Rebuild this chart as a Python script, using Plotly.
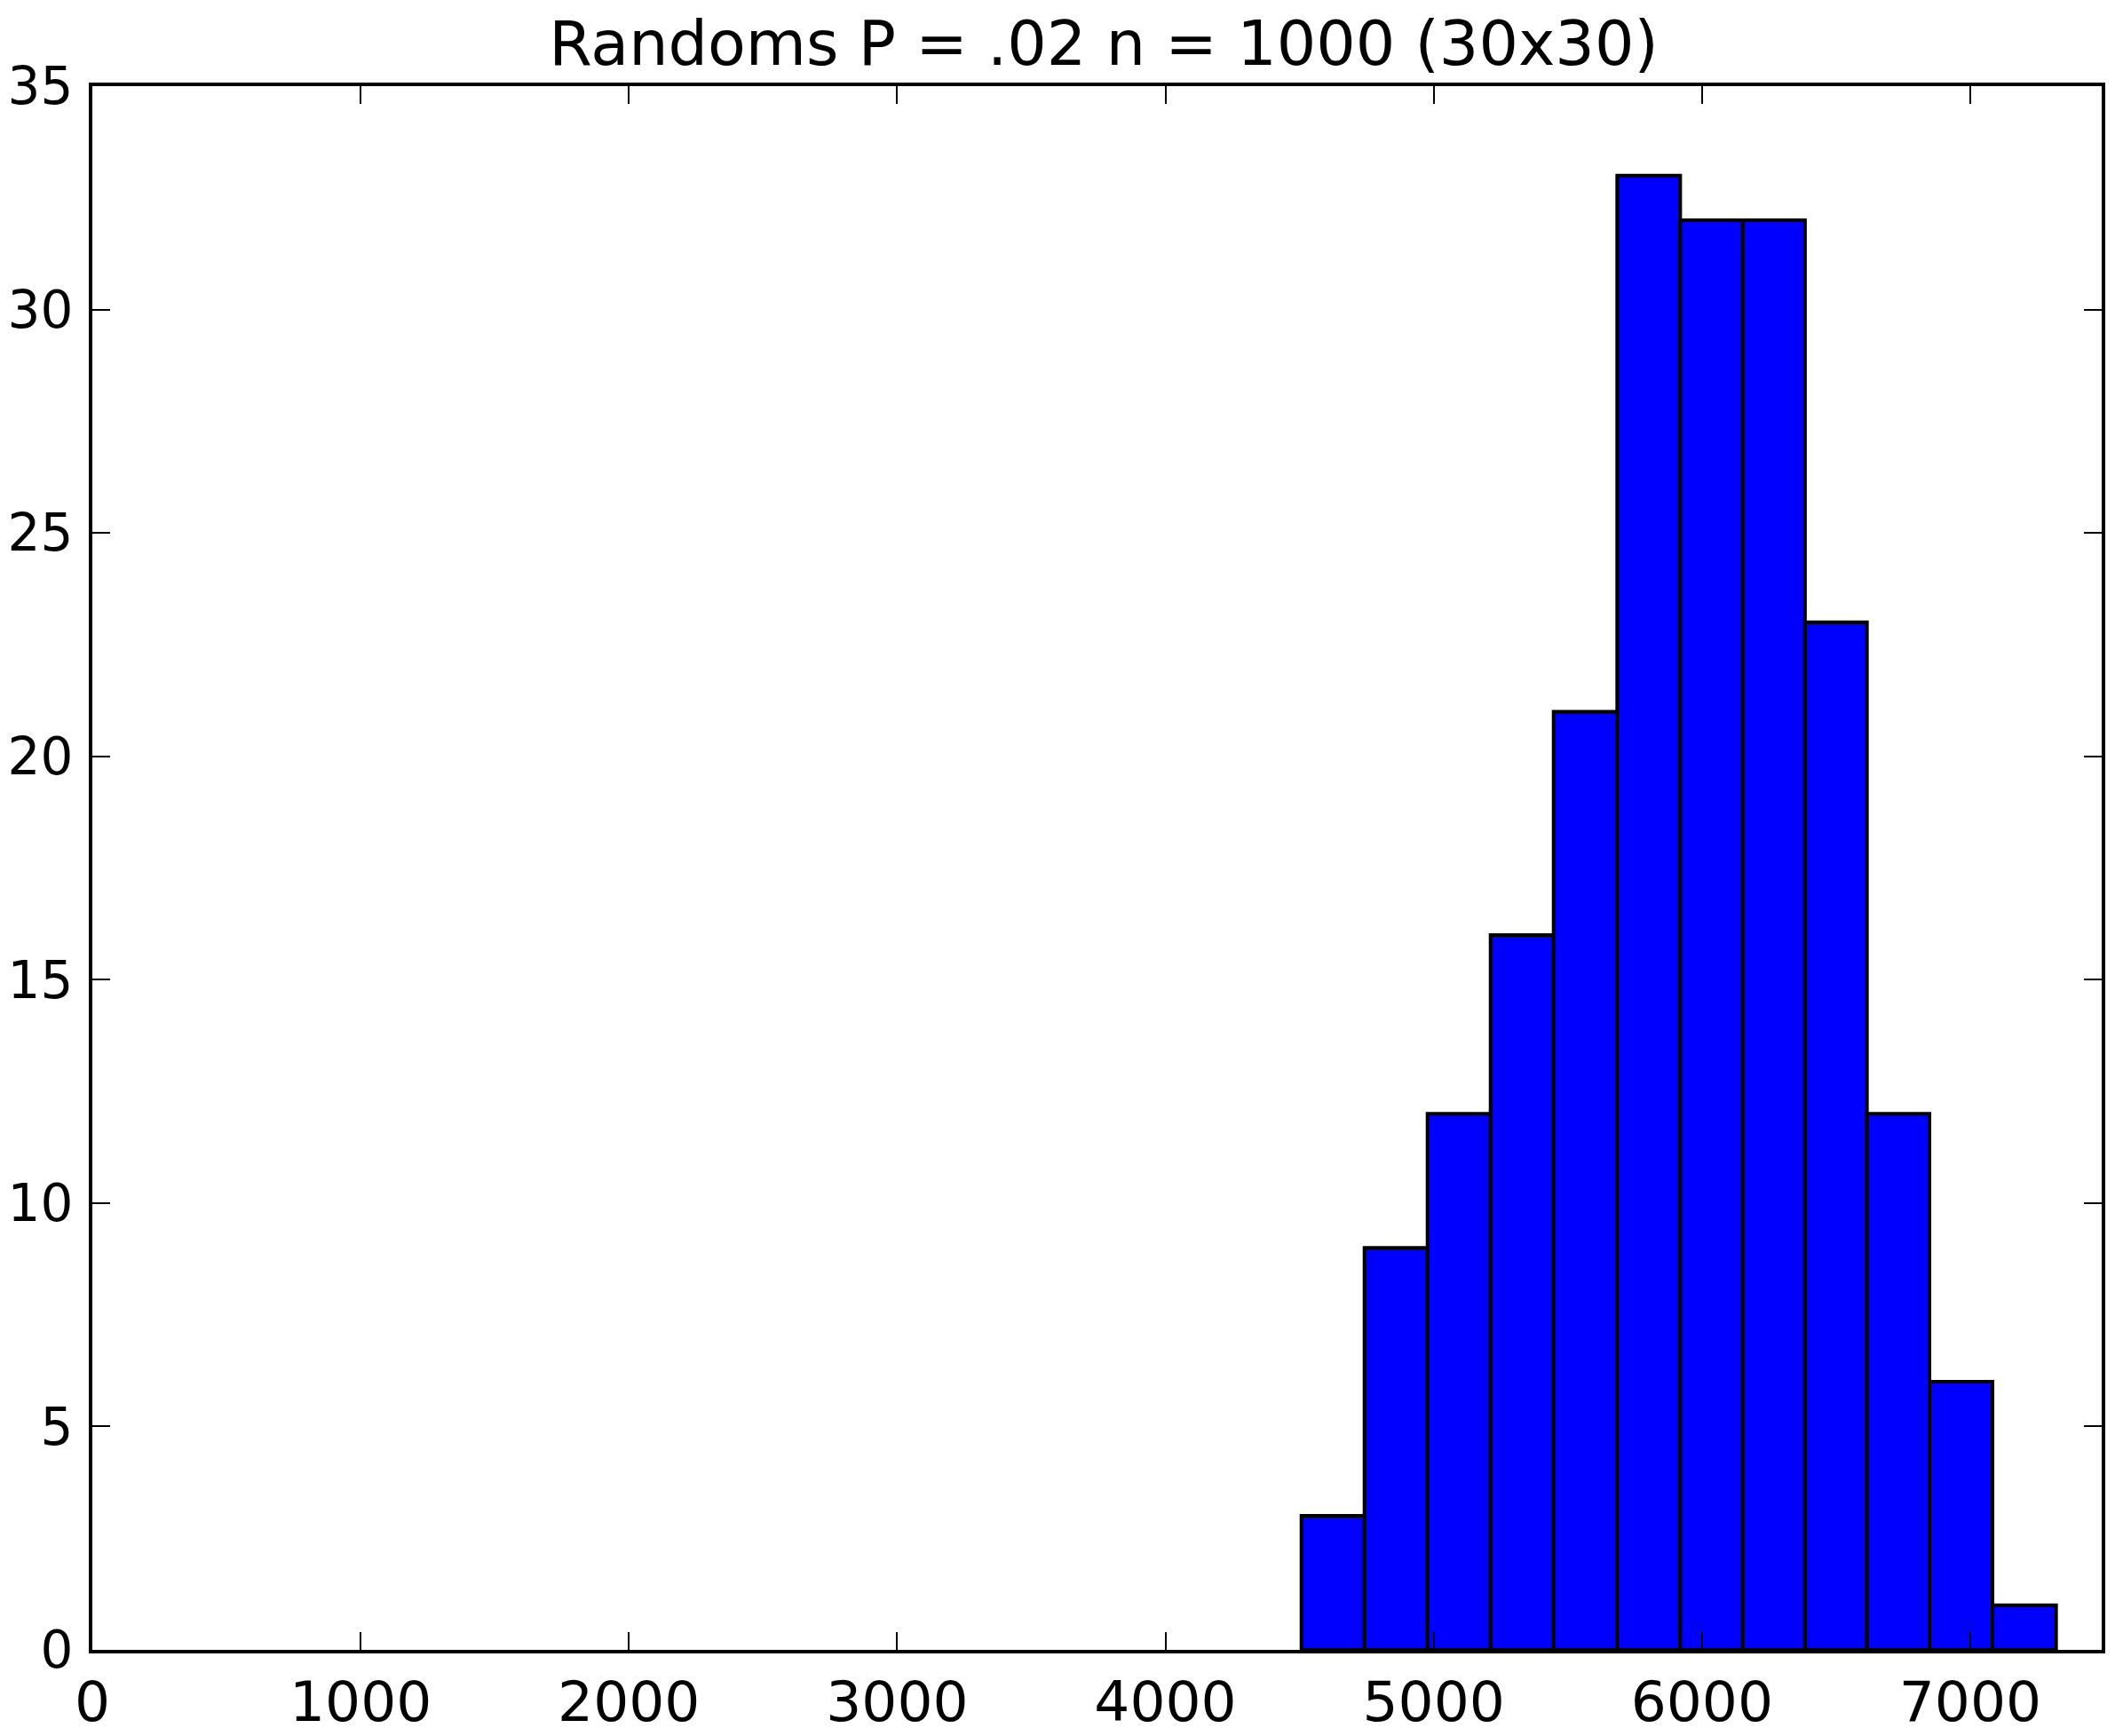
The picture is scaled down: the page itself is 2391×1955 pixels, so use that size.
import plotly.graph_objects as go

# histogram
bin_edges = [4507, 4742, 4977, 5212, 5447, 5684, 5919, 6152, 6384, 6615, 6848, 7083, 7320]
counts = [3, 9, 12, 16, 21, 33, 32, 32, 23, 12, 6, 1]

x_ticks = [0, 1000, 2000, 3000, 4000, 5000, 6000, 7000]
y_ticks = [0, 5, 10, 15, 20, 25, 30, 35]

centers = [(a + b) / 2 for a, b in zip(bin_edges[:-1], bin_edges[1:])]
widths = [b - a for a, b in zip(bin_edges[:-1], bin_edges[1:])]

fig = go.Figure()
fig.add_trace(go.Bar(
    x=centers, y=counts, width=widths,
    marker=dict(color='#0000ff', line=dict(color='black', width=4)),
))

axis_style = dict(
    showline=True, linecolor='black', linewidth=4, mirror='ticks',
    ticks='inside', ticklen=20, tickwidth=2, tickcolor='black',
    showgrid=False, zeroline=False, automargin=False,
)

fig.update_layout(
    width=2391, height=1955,
    title=dict(text='Randoms P = .02 n = 1000 (30x30)', x=0.5165, xanchor='center',
               y=0.967, yanchor='bottom',
               font=dict(family='DejaVu Sans', size=70, color='black')),
    margin=dict(l=96, r=32, t=89, b=105),
    plot_bgcolor='white', paper_bgcolor='white',
    showlegend=False,
    xaxis=dict(range=[0, 7490], tickvals=x_ticks,
               tickfont=dict(family='DejaVu Sans', size=63, color='black'), **axis_style),
    yaxis=dict(range=[0, 35], tickvals=y_ticks, ticklabelstandoff=6,
               tickfont=dict(family='DejaVu Sans', size=58, color='black'), **axis_style),
)

fig.write_html('out.html')
